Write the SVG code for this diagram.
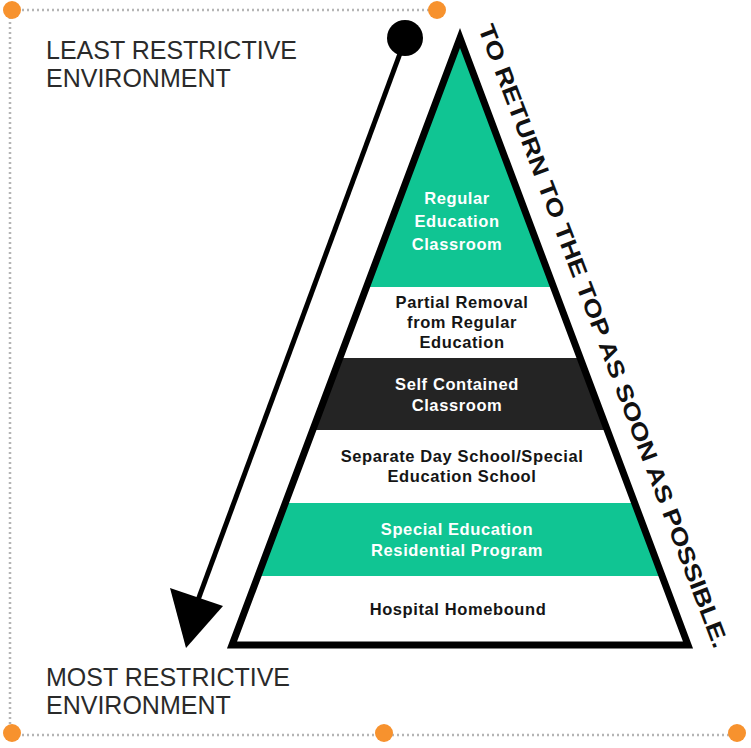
<svg xmlns="http://www.w3.org/2000/svg" width="751" height="748" viewBox="0 0 751 748">
<style>
.dot{fill:#f7922e}
.brd{stroke:#b5b5b5;stroke-width:2.5;stroke-dasharray:2 3;fill:none}
.big{font-family:"Liberation Sans",Arial,sans-serif;font-size:25px;fill:#2a2a2a}
.lbl{font-family:"Liberation Sans",Arial,sans-serif;font-size:16.5px;font-weight:bold;text-anchor:middle;letter-spacing:0.6px}
.w{fill:#fff}.d{fill:#151515}
</style>
<rect width="751" height="748" fill="#fff"/>
<g id="frame">
<path class="brd" d="M12 10H437M10 12V733M12 735H737"/>
<circle class="dot" cx="12" cy="10" r="9"/><circle class="dot" cx="437" cy="10" r="9"/>
<circle class="dot" cx="12" cy="733" r="9"/><circle class="dot" cx="384" cy="733" r="9"/><circle class="dot" cx="737" cy="733" r="9"/>
</g>
<text class="big" x="46" y="59">LEAST RESTRICTIVE</text>
<text class="big" x="46" y="87">ENVIRONMENT</text>
<text class="big" x="46" y="686">MOST RESTRICTIVE</text>
<text class="big" x="46" y="714">ENVIRONMENT</text>
<g id="connectors">
<line x1="405" y1="40" x2="198" y2="600" stroke="#000" stroke-width="5"/>
<circle cx="405" cy="38" r="18" fill="#000"/>
<polygon points="170,588 223,606 186,648" fill="#000"/>
</g>
<g id="pyramid">
<polygon id="l1" points="460,38 553.5,287 366.5,287" fill="#10c593"/>
<polygon id="l3" points="340,358 580,358 607,430 313,430" fill="#242424"/>
<polygon id="l5" points="285,503 635,503 662,576 258,576" fill="#10c593"/>
<polygon points="460,38 688,645 232,645" fill="none" stroke="#000" stroke-width="7" stroke-linejoin="miter"/>
</g>
<g id="labels">
<text class="lbl w" x="457" y="204">Regular</text>
<text class="lbl w" x="457" y="227">Education</text>
<text class="lbl w" x="457" y="250">Classroom</text>
<text class="lbl d" x="462" y="308">Partial Removal</text>
<text class="lbl d" x="462" y="328">from Regular</text>
<text class="lbl d" x="462" y="348">Education</text>
<text class="lbl w" x="457" y="390">Self Contained</text>
<text class="lbl w" x="457" y="411">Classroom</text>
<text class="lbl d" x="462" y="462">Separate Day School/Special</text>
<text class="lbl d" x="462" y="482">Education School</text>
<text class="lbl w" x="457" y="535">Special Education</text>
<text class="lbl w" x="457" y="556">Residential Program</text>
<text class="lbl d" x="458" y="615">Hospital Homebound</text>
</g>
<text transform="translate(478,28) rotate(69.2)" font-family="Liberation Sans,Arial,sans-serif" font-weight="bold" font-size="23" fill="#111" textLength="665" lengthAdjust="spacingAndGlyphs">TO RETURN TO THE TOP AS SOON AS POSSIBLE.</text>
</svg>
